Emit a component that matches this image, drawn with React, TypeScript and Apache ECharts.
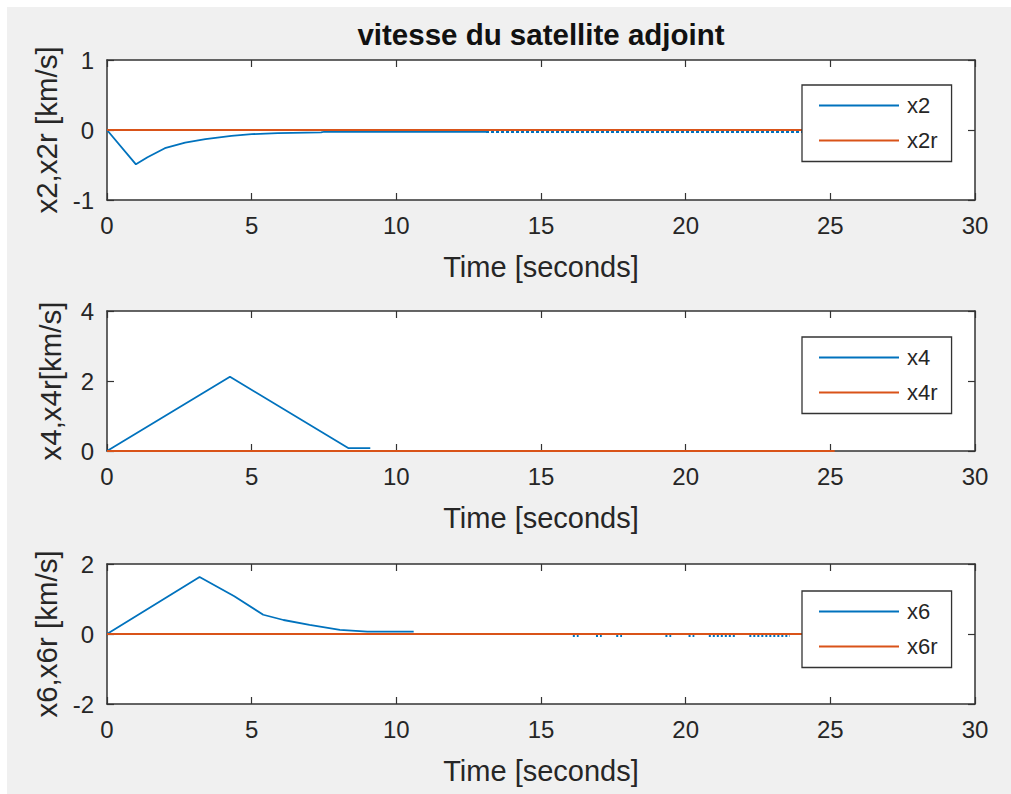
import React, { useEffect, useRef } from "react";
import * as echarts from "echarts";

const FONT = "'Liberation Sans', Arial, Helvetica, sans-serif";
const TEXT = "#262626";
const AXIS = "#333333";
const BLUE = "#0072BD";
const ORANGE = "#D95319";

const titleText = "vitesse du satellite adjoint";
const xName = "Time [seconds]";
const xTicks = [0, 5, 10, 15, 20, 25, 30];
const yNames = ["x2,x2r [km/s]", "x4,x4r[km/s]", "x6,x6r [km/s]"];
const yTicks1 = [-1, 0, 1];
const yTicks2 = [0, 2, 4];
const yTicks3 = [-2, 0, 2];

// subplot 1
const t2 = [0, 1.0, 1.4, 2.0, 2.7, 3.4, 4.3, 5.0, 5.9, 7.4, 7.5, 13.1];
const v2 = [0, -0.49, -0.39, -0.26, -0.18, -0.13, -0.085, -0.06, -0.045, -0.035, -0.025, -0.025];
const t2Tail = [13.1, 24.1];
const v2Tail = [-0.03, -0.03];
const t2r = [0, 25.1];
const v2r = [0, 0];

// subplot 2
const t4 = [0, 4.25, 8.35, 9.1];
const v4 = [0, 2.12, 0.08, 0.08];
const t4r = [0, 25.15];
const v4r = [0, 0];

// subplot 3
const t6 = [0, 3.2, 4.4, 5.4, 6.1, 7.0, 8.05, 9.0, 10.6];
const v6 = [0, 1.63, 1.08, 0.55, 0.4, 0.26, 0.12, 0.07, 0.07];
const t6Tail = [16.1, 16.3, 16.5, 16.9, 17.1, 17.3, 17.6, 17.8, 18.0, 19.3, 19.5, 19.7, 20.1, 20.3, 20.5, 20.8, 21.7, 21.9, 22.2, 23.6, 23.7];
const v6Tail = [-0.06, -0.06, null, -0.06, -0.06, null, -0.06, -0.06, null, -0.06, -0.06, null, -0.06, -0.06, null, -0.06, -0.06, null, -0.06, -0.06, null];
const t6r = [0, 25.1];
const v6r = [0, 0];

const pairs = (t: number[], v: (number | null)[]) =>
  t.map((x, i) => [x, v[i] === null ? "-" : v[i]]);

// layout (chart coords, chart div offset by 7px)
const GRID_LEFT = 100;
const GRID_WIDTH = 868;
const GRID_HEIGHT = 140;
const GRID_TOPS = [53, 304, 557];
const LEGEND_TOPS = [78, 330, 584];

export default function App() {
  const ref = useRef<HTMLDivElement>(null);
  useEffect(() => {
    if (!ref.current) return;
    const chart = echarts.init(ref.current, undefined, { renderer: "svg" });
    const yTickSets = [yTicks1, yTicks2, yTicks3];

    const axisLine = { show: true, onZero: false, lineStyle: { color: AXIS, width: 1.5 } };
    const axisTick = { show: true, inside: true, length: 7, lineStyle: { color: AXIS, width: 1.2 } };

    const grids: any[] = [];
    const xAxes: any[] = [];
    const yAxes: any[] = [];
    for (let i = 0; i < 3; i++) {
      grids.push({
        left: GRID_LEFT,
        top: GRID_TOPS[i],
        width: GRID_WIDTH,
        height: GRID_HEIGHT,
        show: true,
        backgroundColor: "#ffffff",
        borderWidth: 0,
      });
      const xr = {
        type: "value",
        gridIndex: i,
        min: xTicks[0],
        max: xTicks[xTicks.length - 1],
        interval: xTicks[1] - xTicks[0],
        splitLine: { show: false },
        axisLine,
        axisTick,
      };
      xAxes.push({
        ...xr,
        position: "bottom",
        axisLabel: { margin: 13, color: TEXT, fontSize: 24, fontFamily: FONT },
        name: xName,
        nameLocation: "middle",
        nameGap: 52,
        nameTextStyle: { fontSize: 29, color: TEXT, fontFamily: FONT },
      });
      xAxes.push({ ...xr, position: "top", axisLabel: { show: false } });
      const yt = yTickSets[i];
      const yr = {
        type: "value",
        gridIndex: i,
        min: yt[0],
        max: yt[yt.length - 1],
        interval: yt[1] - yt[0],
        splitLine: { show: false },
        axisLine,
        axisTick,
      };
      yAxes.push({
        ...yr,
        position: "left",
        axisLabel: { margin: 13, color: TEXT, fontSize: 24, fontFamily: FONT },
        name: yNames[i],
        nameLocation: "middle",
        nameGap: 42,
        nameTextStyle: { fontSize: 29.5, color: TEXT, fontFamily: FONT },
      });
      yAxes.push({ ...yr, position: "right", axisLabel: { show: false } });
    }

    const line = (name: string, i: number, data: any[], color: string, width: number, type: any = "solid") => ({
      type: "line",
      name,
      xAxisIndex: 2 * i,
      yAxisIndex: 2 * i,
      data,
      symbol: "none",
      connectNulls: false,
      silent: true,
      lineStyle: { color, width, type },
      itemStyle: { color },
    });

    const series = [
      line("x2", 0, pairs(t2, v2), BLUE, 1.8),
      line("x2", 0, pairs(t2Tail, v2Tail), BLUE, 2, [3, 2]),
      line("x2r", 0, pairs(t2r, v2r), ORANGE, 2),
      line("x4", 1, pairs(t4, v4), BLUE, 1.8),
      line("x4r", 1, pairs(t4r, v4r), ORANGE, 2),
      line("x6", 2, pairs(t6, v6), BLUE, 1.8),
      line("x6", 2, pairs(t6Tail, v6Tail), BLUE, 2, [2, 2]),
      line("x6r", 2, pairs(t6r, v6r), ORANGE, 2),
    ];

    const legendNames = [["x2", "x2r"], ["x4", "x4r"], ["x6", "x6r"]];
    const legends = legendNames.map((names, i) => ({
      data: names,
      left: 795,
      top: LEGEND_TOPS[i],
      orient: "vertical",
      icon: "rect",
      itemWidth: 80,
      itemHeight: 2,
      itemGap: 13,
      padding: [9.5, 14, 10, 17],
      borderColor: AXIS,
      borderWidth: 1.3,
      backgroundColor: "#ffffff",
      selectedMode: false,
      textStyle: { fontSize: 22, color: TEXT, fontFamily: FONT, lineHeight: 21, padding: [0, 0, 0, 3] },
    }));

    chart.setOption({
      animation: false,
      backgroundColor: "#f0f0f0",
      textStyle: { fontFamily: FONT },
      grid: grids,
      xAxis: xAxes,
      yAxis: yAxes,
      legend: legends,
      series,
      graphic: [
        {
          type: "text",
          x: 534,
          y: 12,
          style: {
            text: titleText,
            fontSize: 29.5,
            fontWeight: "bold",
            fontFamily: FONT,
            fill: "#111111",
            align: "center",
            verticalAlign: "top",
            textAlign: "center",
            textVerticalAlign: "top",
          },
        },
      ],
    });
    return () => chart.dispose();
  }, []);

  return (
    <div style={{ position: "fixed", left: 0, top: 0, width: 1011, height: 794, background: "#ffffff" }}>
      <div ref={ref} style={{ position: "absolute", left: 7, top: 7, width: 1004, height: 787 }} />
    </div>
  );
}
